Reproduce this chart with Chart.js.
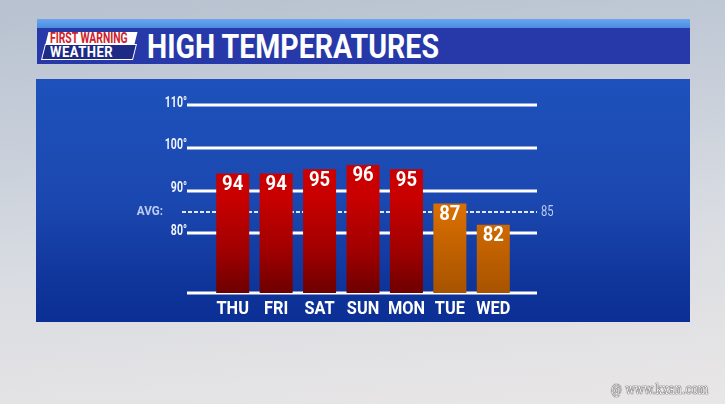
<!DOCTYPE html>
<html>
<head>
<meta charset="utf-8">
<script src="https://cdn.jsdelivr.net/npm/chart.js@4"></script>
<style>
  html, body { margin:0; padding:0; }
  body { width:725px; height:404px; overflow:hidden; position:relative;
    background: linear-gradient(175deg, #b7c1cf 0%, #c4ccd8 25%, #d9dce2 60%, #e9e6e6 100%);
    font-family: Roboto, "DejaVu Sans", sans-serif; }
  #strip { position:absolute; left:37px; top:19px; width:653px; height:9px;
    background: linear-gradient(#6aa6ef, #4a8ce0); }
  #header { position:absolute; left:37px; top:28px; width:653px; height:36px;
    background:#2739a9; }
  .cond { position:absolute; white-space:nowrap; transform-origin:left top; font-weight:bold; }
  #title { left:147px; top:29px; line-height:34px; color:#fff; font-size:34px;
    transform:scaleX(0.84); }
  #logo1 { position:absolute; left:47px; top:32px; width:89px; height:12px;
    background:#fff; transform:skewX(-14deg); }
  #logo1t { left:50px; top:31px; line-height:14px; color:#d0202a; font-size:14px;
    transform:scaleX(0.74); }
  #logo2 { position:absolute; left:43px; top:44px; width:92px; height:16px;
    border:1.5px solid #fff; background:#1d2a86; transform:skewX(-14deg); box-sizing:border-box; }
  #logo2t { left:50px; top:44px; line-height:16px; color:#fff; font-size:15.5px; letter-spacing:0.6px;
    transform:scaleX(0.84); }
  #panel { position:absolute; left:36px; top:79px; width:654px; height:243px;
    background: linear-gradient(#1e51bb 0%, #1b48b0 50%, #0f349a 85%, #0b2f94 100%); }
  #c { position:absolute; left:0; top:0; }
  #wm { position:absolute; left:611px; top:381px; color:#f6f6f6; font-size:14px;
    font-family:"DejaVu Serif", serif; white-space:nowrap; transform-origin:left top; transform:scaleX(0.78);
    text-shadow:0 0 1px #444, 0 0 1px #444, 0 0 1px #444; }
</style>
</head>
<body>
<div id="strip"></div>
<div id="header"></div>
<div id="logo1"></div><div id="logo1t" class="cond">FIRST WARNING</div>
<div id="logo2"></div><div id="logo2t" class="cond">WEATHER</div>
<div id="title" class="cond">HIGH TEMPERATURES</div>
<div id="panel"></div>
<canvas id="c" width="725" height="404"></canvas>
<div id="wm">@ www.kxan.com</div>
<script>
const days = ['THU','FRI','SAT','SUN','MON','TUE','WED'];
const highs = [94, 94, 95, 96, 95, 87, 82];
const avgHigh = 85;
const gridValues = [80, 90, 100, 110];
const gridLabels = ['80°', '90°', '100°', '110°'];
const yMin = 66, yMax = 115;

const FONT = 'Roboto, "DejaVu Sans", sans-serif';

function barFill(ctx) {
  const chart = ctx.chart;
  const area = chart.chartArea;
  if (!area) return '#c00';
  const v = ctx.raw;
  const g = chart.ctx.createLinearGradient(0, area.top, 0, area.bottom);
  if (v >= 90) {
    g.addColorStop(0, '#d40000'); g.addColorStop(0.55, '#c80000');
    g.addColorStop(0.8, '#a00000'); g.addColorStop(1, '#6e0000');
  } else {
    g.addColorStop(0, '#e27400'); g.addColorStop(0.6, '#d86e00');
    g.addColorStop(1, '#a85300');
  }
  return g;
}

function condText(c, text, x, y, sx, align) {
  c.save();
  c.translate(x, y);
  c.scale(sx, 1);
  c.textAlign = align;
  c.fillText(text, 0, 0);
  c.restore();
}

const overlay = {
  id: 'overlay',
  beforeDatasetsDraw(chart) {
    const c = chart.ctx, y = chart.scales.y, a = chart.chartArea;
    const x0 = a.left - 24, x1 = a.right + 22;
    c.save();
    c.strokeStyle = '#ffffff';
    c.lineWidth = 3;
    [yMin, ...gridValues].forEach(v => {
      const py = Math.round(y.getPixelForValue(v));
      c.beginPath(); c.moveTo(x0, py); c.lineTo(x1, py); c.stroke();
    });
    const pa = Math.round(y.getPixelForValue(avgHigh));
    c.strokeStyle = '#dfe7fb';
    c.lineWidth = 2;
    c.setLineDash([4, 2]);
    c.beginPath(); c.moveTo(x0 - 5, pa); c.lineTo(x1, pa); c.stroke();
    c.setLineDash([]);
    c.fillStyle = '#f0f4ff';
    c.font = 'bold 15px ' + FONT;
    c.textBaseline = 'alphabetic';
    gridValues.forEach((v, i) => {
      condText(c, gridLabels[i], x0, y.getPixelForValue(v) + 1.5, 0.7, 'right');
    });
    c.fillStyle = '#bccdf4';
    c.font = 'bold 13px ' + FONT;
    c.textBaseline = 'middle';
    condText(c, 'AVG:', 163, pa, 0.9, 'right');
    c.font = '14px ' + FONT;
    condText(c, String(avgHigh), x1 + 4, pa, 0.8, 'left');
    c.restore();
  },
  afterDatasetsDraw(chart) {
    const c = chart.ctx, meta = chart.getDatasetMeta(0), x = chart.scales.x, a = chart.chartArea;
    c.save();
    c.fillStyle = '#ffffff';
    c.textBaseline = 'middle';
    c.font = 'bold 21px ' + FONT;
    meta.data.forEach((bar, i) => {
      condText(c, String(highs[i]), bar.x, bar.y + 11, 0.88, 'center');
    });
    c.font = 'bold 19px ' + FONT;
    days.forEach((d, i) => {
      condText(c, d, x.getPixelForValue(i), a.bottom + 16, 0.86, 'center');
    });
    c.restore();
  }
};

new Chart(document.getElementById('c'), {
  type: 'bar',
  data: {
    labels: days,
    datasets: [{
      data: highs,
      backgroundColor: barFill,
      borderWidth: 0,
      barPercentage: 0.76,
      categoryPercentage: 1.0
    }]
  },
  options: {
    responsive: false,
    animation: false,
    devicePixelRatio: 1,
    layout: { padding: { left: 211, right: 210, top: 84, bottom: 111 } },
    plugins: { legend: { display: false }, tooltip: { enabled: false } },
    scales: {
      x: { display: false },
      y: { display: false, min: yMin, max: yMax }
    }
  },
  plugins: [overlay]
});
</script>
</body>
</html>
